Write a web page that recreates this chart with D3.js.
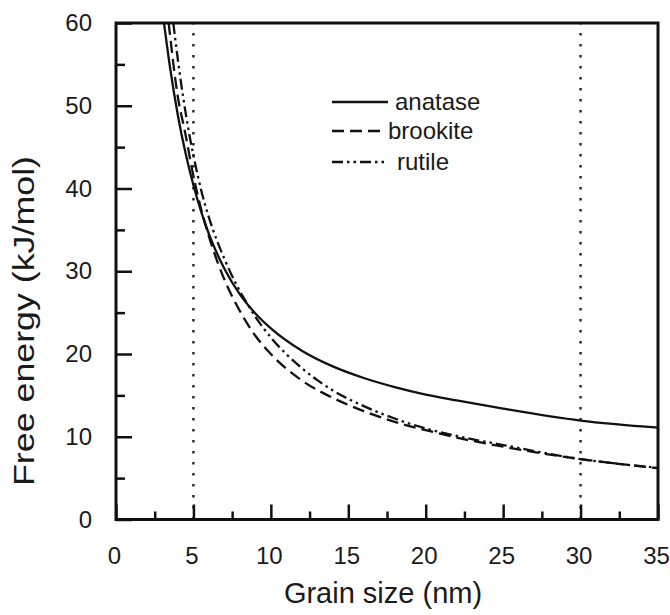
<!DOCTYPE html>
<html>
<head>
<meta charset="utf-8">
<script src="https://cdn.jsdelivr.net/npm/d3@7"></script>
<style>
  body { margin: 0; background: #fff; }
  svg { display: block; }
  text { font-family: "Liberation Sans", Arial, Helvetica, sans-serif; fill: #1a1a1a; }
</style>
</head>
<body>
<div id="app"></div>
<script>
// free energy vs grain size for the three TiO2 polymorphs, [size nm, kJ/mol]
var anatase = [[3.1,60],[3.5,54.5],[4,48.8],[4.5,44.2],[5,40.4],[5.5,37.2],[6,34.5],[7,30.3],[8,27.2],[9,24.9],[10,23.1],[12,20.4],[14,18.5],[16,17.1],[18,16.0],[20,15.1],[22,14.4],[25,13.4],[30,11.95],[35,11.1]]
var brookite = [[3.4,60],[4,51],[4.45,46.9],[5,41.5],[5.5,37.5],[6,34.2],[7,29],[8,25.2],[8.5,23.6],[9,22.2],[10,20.0],[12,16.8],[14,14.7],[16,13.1],[18,11.8],[20,10.8],[22,9.9],[25,8.8],[30,7.3],[35,6.2]]
var rutile = [[3.7,60],[4,55.5],[4.7,46.9],[5,44],[5.5,39.8],[6,36.5],[7,31.5],[8,27.6],[8.5,26.0],[9,24.5],[10,22.0],[12,18.3],[14,15.6],[16,13.7],[18,12.2],[20,11.0],[22,10.1],[25,9.0],[30,7.3],[35,6.25]]

var seriesNames = ["anatase","brookite","rutile"]
var markers = [5, 30]   // dotted reference sizes

var xMajor = d3.range(0, 36, 5)
var xMinor = d3.range(2.5, 35, 5)
var yMajor = d3.range(0, 61, 10)
var yMinor = d3.range(5, 60, 10)

var width = 670, height = 615
var svg = d3.select("#app").append("svg").attr("width", width).attr("height", height)

var x = d3.scaleLinear().domain([0,35]).range([116,658])
var y = d3.scaleLinear().domain([0,60]).range([519.5,23])

var dashes = {anatase: null, brookite: "12,6", rutile: "11,4,2.5,4,2.5,4"}

// dotted verticals
svg.selectAll(".marker").data(markers).enter().append("line")
  .attr("x1", d=>x(d)).attr("x2", d=>x(d))
  .attr("y1", y(0)).attr("y2", y(60))
  .attr("stroke", "#222").attr("stroke-width", 2.4)
  .attr("stroke-dasharray", "2.5,8.5")

svg.append("clipPath").attr("id","plot").append("rect")
  .attr("x", x(0)).attr("y", y(60)).attr("width", x(35)-x(0)).attr("height", y(0)-y(60))

var line = d3.line().x(d=>x(d[0])).y(d=>y(d[1])).curve(d3.curveMonotoneX)

var data = {anatase: anatase, brookite: brookite, rutile: rutile}
seriesNames.forEach(function(name){
  svg.append("path").datum(data[name])
    .attr("d", line)
    .attr("clip-path", "url(#plot)")
    .attr("fill", "none")
    .attr("stroke", "#111")
    .attr("stroke-width", 2.3)
    .attr("stroke-dasharray", dashes[name])
})

// axes with inward ticks
function styleAxis(g){
  g.select(".domain").remove()
  g.selectAll("line").attr("stroke", "#111").attr("stroke-width", 2.5)
  g.selectAll("text").attr("font-size", 24).attr("fill", "#1a1a1a")
    .attr("font-family", '"Liberation Sans", Arial, sans-serif')
}

svg.append("g").attr("transform", "translate(0," + y(0) + ")")
  .call(d3.axisBottom(x).tickValues(xMajor).tickSize(-15).tickPadding(27).tickFormat(d3.format("d")))
  .call(styleAxis)
  .selectAll("text").attr("dx", -2)
svg.append("g").attr("transform", "translate(0," + y(0) + ")")
  .call(d3.axisBottom(x).tickValues(xMinor).tickSize(-8).tickFormat(""))
  .call(styleAxis)

svg.append("g").attr("transform", "translate(" + x(0) + ",0)")
  .call(d3.axisLeft(y).tickValues(yMajor).tickSize(-16).tickPadding(24).tickFormat(d3.format("d")))
  .call(styleAxis)
svg.append("g").attr("transform", "translate(" + x(0) + ",0)")
  .call(d3.axisLeft(y).tickValues(yMinor).tickSize(-9).tickFormat(""))
  .call(styleAxis)

// frame
svg.append("rect")
  .attr("x", x(0)).attr("y", y(60))
  .attr("width", x(35)-x(0)).attr("height", y(0)-y(60))
  .attr("fill", "none").attr("stroke", "#111").attr("stroke-width", 3)

// legend
var legendY = [102, 131, 162]
var legendTextX = [395, 388, 397]
var lg = svg.selectAll(".legend").data(seriesNames).enter().append("g")
lg.append("line")
  .attr("x1", 332).attr("x2", (d,i)=> i==0 ? 388 : 385)
  .attr("y1", (d,i)=>legendY[i]).attr("y2", (d,i)=>legendY[i])
  .attr("stroke", "#111").attr("stroke-width", 2.3)
  .attr("stroke-dasharray", d=>dashes[d])
lg.append("text").text(d=>d)
  .attr("x", (d,i)=>legendTextX[i]).attr("y", (d,i)=>legendY[i])
  .attr("dy", "0.35em").attr("font-size", 24)

svg.append("text").text("Grain size (nm)")
  .attr("x", 383).attr("y", 603)
  .attr("text-anchor", "middle").attr("font-size", 29)

svg.append("text").text("Free energy (kJ/mol)")
  .attr("transform", "translate(34,321) rotate(-90)")
  .attr("text-anchor", "middle").attr("font-size", 29)
  .attr("textLength", 330).attr("lengthAdjust", "spacingAndGlyphs")
</script>
</body>
</html>
